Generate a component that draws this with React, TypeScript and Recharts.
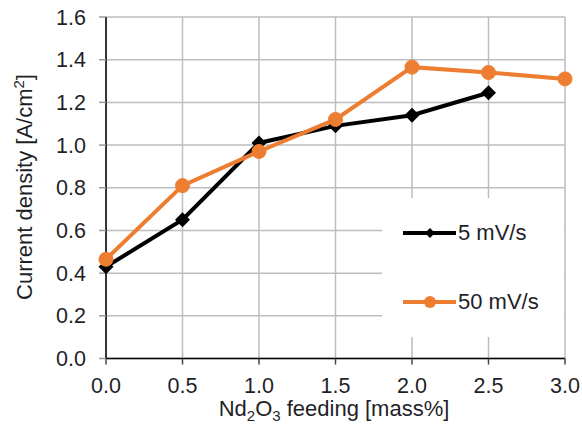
import React from 'react';
import {
  LineChart,
  Line,
  XAxis,
  YAxis,
  CartesianGrid,
  Legend,
  Label,
} from 'recharts';

const feeding = [0, 0.5, 1.0, 1.5, 2.0, 2.5, 3.0];
const slowScan = [0.43, 0.65, 1.01, 1.09, 1.14, 1.245, null];
const fastScan = [0.465, 0.81, 0.97, 1.12, 1.365, 1.34, 1.31];
const xTicks = [0, 0.5, 1.0, 1.5, 2.0, 2.5, 3.0];
const yTicks = [0, 0.2, 0.4, 0.6, 0.8, 1.0, 1.2, 1.4, 1.6];

const ORANGE = '#ED7D31';
const TEXT = '#1f1f28';
const GRID = '#bdbdbd';
const FONT = '"Liberation Sans", Arial, sans-serif';

const rows = feeding.map((x, i) => ({
  x,
  slow: slowScan[i],
  fast: fastScan[i],
}));

const Diamond = (props: any) => {
  const { cx, cy, index } = props;
  if (cx == null || cy == null || props.value == null) return <g key={`d-${index}`} />;
  const r = 7.5;
  return (
    <path
      key={`d-${index}`}
      d={`M${cx},${cy - r}L${cx + r},${cy}L${cx},${cy + r}L${cx - r},${cy}Z`}
      fill="#000"
    />
  );
};

const LegendBox = () => (
  <svg width={182} height={139} style={{ display: 'block', background: '#fff' }}>
    <line x1={21} y1={35} x2={74} y2={35} stroke="#000" strokeWidth={4} />
    <path d="M48,30L53,35L48,40L43,35Z" fill="#000" />
    <text x={76} y={42} fontSize={22} fill={TEXT} fontFamily={FONT}>
      5 mV/s
    </text>
    <line x1={21} y1={104} x2={74} y2={104} stroke={ORANGE} strokeWidth={4} />
    <circle cx={48} cy={104} r={6} fill={ORANGE} />
    <text x={76} y={111} fontSize={22} fill={TEXT} fontFamily={FONT}>
      50 mV/s
    </text>
  </svg>
);

const XTitle = () => (
  <text x={334} y={416} textAnchor="middle" fontSize={22} fill={TEXT} fontFamily={FONT}>
    Nd
    <tspan fontSize={15} dy={5}>2</tspan>
    <tspan dy={-5}>O</tspan>
    <tspan fontSize={15} dy={5}>3</tspan>
    <tspan dy={-5}> feeding [mass%]</tspan>
  </text>
);

const YTitle = () => (
  <text
    x={0}
    y={0}
    transform="translate(32,187) rotate(-90)"
    textAnchor="middle"
    fontSize={22}
    fill={TEXT}
    fontFamily={FONT}
  >
    Current density [A/cm
    <tspan fontSize={15} dy={-8}>2</tspan>
    <tspan dy={8}>]</tspan>
  </text>
);

export default function App() {
  return (
    <div
      style={{
        position: 'absolute',
        left: 0,
        top: 0,
        width: 582,
        height: 426,
        background: '#fff',
        fontFamily: FONT,
      }}
    >
      <LineChart
        width={582}
        height={426}
        data={rows}
        margin={{ top: 17, right: 17, bottom: 7.5, left: 0 }}
      >
        <CartesianGrid stroke={GRID} strokeWidth={1.5} />
        <XAxis
          dataKey="x"
          type="number"
          domain={[0, 3]}
          ticks={xTicks}
          tickFormatter={(v: number) => v.toFixed(1)}
          height={60}
          tickSize={6}
          tickMargin={13}
          axisLine={{ stroke: '#000', strokeWidth: 1.5 }}
          tickLine={{ stroke: '#444', strokeWidth: 1.5 }}
          tick={{ fontSize: 21.5, fill: TEXT, fontFamily: FONT }}
        >
          <Label content={<XTitle />} />
        </XAxis>
        <YAxis
          type="number"
          domain={[0, 1.6]}
          ticks={yTicks}
          tickFormatter={(v: number) => v.toFixed(1)}
          width={106}
          tickSize={7}
          tickMargin={13}
          axisLine={{ stroke: '#000', strokeWidth: 1.5 }}
          tickLine={{ stroke: '#999', strokeWidth: 1.5 }}
          tick={{ fontSize: 21.5, fill: TEXT, fontFamily: FONT }}
        >
          <Label content={<YTitle />} />
        </YAxis>
        <Legend
          layout="horizontal"
          verticalAlign="middle"
          align="center"
          content={<LegendBox />}
          wrapperStyle={{ position: 'absolute', left: 382, top: 198, width: 182, height: 139 }}
        />
        <Line
          dataKey="slow"
          name="5 mV/s"
          stroke="#000"
          strokeWidth={4}
          dot={<Diamond />}
          activeDot={false}
          isAnimationActive={false}
        />
        <Line
          dataKey="fast"
          name="50 mV/s"
          stroke={ORANGE}
          strokeWidth={4}
          dot={{ r: 7, fill: ORANGE, stroke: ORANGE, strokeWidth: 1 }}
          activeDot={false}
          isAnimationActive={false}
        />
      </LineChart>
    </div>
  );
}
